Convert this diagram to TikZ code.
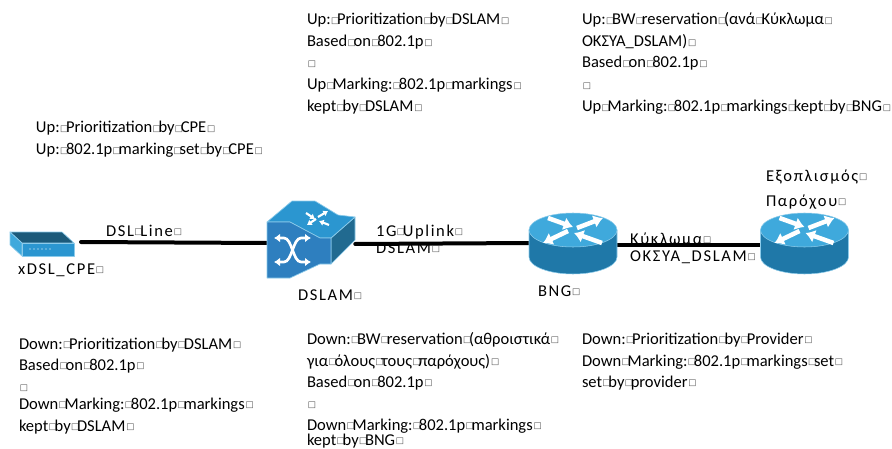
\documentclass[tikz,border=0pt]{standalone}
\usepackage{fontspec}
\usetikzlibrary{arrows.meta}
\setmainfont{Carlito}
\newfontfamily\lblfont[LetterSpace=10]{Carlito}
\newfontfamily\boxfont{DejaVu Sans}
\newcommand{\bx}{\raisebox{1pt}{\boxfont\fontsize{6.5}{6.5}\selectfont\color{black!70}□}}
\newcommand{\tf}{\makebox[0.38em][l]{\hspace{0.02em}\bx}}
\newcommand{\tfe}{\hspace{0.05em}\bx}
\definecolor{rtop}{HTML}{3FA9DC}
\definecolor{rside}{HTML}{1F78A8}
\definecolor{dfront}{HTML}{2E7FBF}
\definecolor{dtop}{HTML}{2B96D0}
\definecolor{dside}{HTML}{216A90}
\definecolor{edge}{HTML}{8CCBEA}
\tikzset{
  x=0.75pt,y=-0.75pt,
  txt/.style={anchor=base west,inner sep=0pt,outer sep=0pt,font=\fontsize{12.4}{12.4}\selectfont},
  lbl/.style={anchor=base west,inner sep=0pt,outer sep=0pt,font=\lblfont\fontsize{12.4}{12.4}\selectfont},
  wire/.style={line width=3pt,black,line cap=round},
  face/.style={draw=edge,line width=0.5pt,line join=round},
  rarrow/.style={white,line width=3.4pt,-{Latex[length=7pt,width=10pt]}},
  xarrow/.style={white,line width=2pt,{Latex[length=4.5pt,width=6.5pt]}-{Latex[length=4.5pt,width=6.5pt]}},
  sarrow/.style={white,line width=1.6pt,-{Latex[length=3.5pt,width=5pt]}}
}
\newcommand{\routericon}[2]{% cx, cy (top ellipse centre)
  \begin{scope}[shift={(#1,#2)}]
    \fill[rside,draw=edge,line width=0.4pt] (-44,0) -- (-44,27) arc[start angle=180,end angle=360,x radius=33pt,y radius=12.75pt] -- (44,0) -- cycle;
    \fill[rtop,draw=edge,line width=0.4pt] (0,0) ellipse[x radius=33pt,y radius=12.75pt];
    \draw[rarrow] (-25,-12) -- (0,-3);
    \draw[rarrow] (4,-2) -- (30,-12);
    \draw[rarrow] (-5,1) -- (-30,13);
    \draw[rarrow] (29,13) -- (1,3);
  \end{scope}
}
\begin{document}
\begin{tikzpicture}
\useasboundingbox (0,0) rectangle (892,449);
% connector anchors
\coordinate (cpeR) at (81,242);
\node[inner sep=0pt,minimum size=0pt] (dslamL) at (268,243) {};
\node[inner sep=0pt,minimum size=0pt] (dslamR) at (355,244) {};
\node[inner sep=0pt,minimum size=0pt] (bngL) at (530,243) {};
\node[inner sep=0pt,minimum size=0pt] (bngR) at (617,245) {};
\node[inner sep=0pt,minimum size=0pt] (provL) at (762,245) {};
\draw[wire] (cpeR) -- (dslamL);
\draw[wire] (dslamR) -- (bngL);
\draw[wire] (bngR) -- (provL);
% CPE
\fill[face,fill=dside!85!black] (10,232) -- (62,232) -- (74,243) -- (22,243) -- cycle;
\fill[face,fill=rtop] (10,232) -- (22,243) -- (22,256) -- (10,245) -- cycle;
\fill[face,fill=dtop] (22,243) -- (74,243) -- (74,256) -- (22,256) -- cycle;
\foreach \dx in {30,34,38,42,46,50} \fill[white] (\dx,249) circle (0.6);
% DSLAM
\fill[face,fill=dside] (331,238) -- (355,217) -- (355,240) -- (331,264) -- cycle;
\fill[face,fill=dtop] (267,222) -- (292,201) -- (315,201) -- (338,215) -- (355,217) -- (331,238) -- (320,238) -- (290,222) -- cycle;
\fill[face,fill=dfront] (267,222) -- (290,222) -- (320,238) -- (331,238) -- (331,264) -- (320,264) -- (290,278) -- (267,278) -- cycle;
\draw[xarrow] (274,238) -- (284,238) .. controls (292,238) and (293,262) .. (301,262) -- (311,262);
\draw[xarrow] (274,262) -- (284,262) .. controls (292,262) and (293,238) .. (301,238) -- (311,238);
\draw[sarrow] (306,213) -- (315,219);
\draw[sarrow] (318,217) -- (328,211);
\draw[sarrow] (316,219) -- (307,225);
\draw[sarrow] (329,225) -- (319,221);
\routericon{573}{230}
\routericon{804.5}{230}
% labels
\node[lbl] (lcpe) at (18,274) {xDSL\_CPE\tfe};
\node[lbl] (ldsl) at (106,236) {DSL\tf Line\tfe};
\node[lbl] (ldslam) at (298,300) {DSLAM\tfe};
\node[lbl] (lup1) at (376,236) {1G\tf Uplink\tfe};
\node[lbl] (lup2) at (376,253) {DSLAM\tfe};
\node[lbl] (lbng) at (538,296) {BNG\tfe};
\node[lbl] (lk1) at (630,244) {Κύκλωμα\tfe};
\node[lbl] (lk2) at (630,261) {ΟΚΣΥΑ\_DSLAM\tfe};
\node[lbl] (lp1) at (766,181) {Εξοπλισμός\tfe};
\node[lbl] (lp2) at (766,206) {Παρόχου\tfe};
% text blocks
\node[txt] (a1) at (36,133) {Up:\tf Prioritization\tf by\tf CPE\tfe};
\node[txt] (a2) at (36,155) {Up:\tf 802.1p\tf marking\tf set\tf by\tf CPE\tfe};
\node[txt] (b1) at (307,25) {Up:\tf Prioritization\tf by\tf DSLAM\tfe};
\node[txt] (b2) at (307,47) {Based\tf on\tf 802.1p\tfe};
\node[txt] (b3) at (307,68) {\tfe};
\node[txt] (b4) at (307,90) {Up\tf Marking:\tf 802.1p\tf markings\tfe};
\node[txt] (b5) at (307,112) {kept\tf by\tf DSLAM\tfe};
\node[txt] (c1) at (582,25) {Up:\tf BW\tf reservation\tf (ανά\tf Κύκλωμα\tfe};
\node[txt] (c2) at (582,47) {ΟΚΣΥΑ\_DSLAM)\tfe};
\node[txt] (c3) at (582,68) {Based\tf on\tf 802.1p\tfe};
\node[txt] (c4) at (582,90) {\tfe};
\node[txt] (c5) at (582,112) {Up\tf Marking:\tf 802.1p\tf markings\tf kept\tf by\tf BNG\tfe};
\node[txt] (d1) at (19,349) {Down:\tf Prioritization\tf by\tf DSLAM\tfe};
\node[txt] (d2) at (19,370) {Based\tf on\tf 802.1p\tfe};
\node[txt] (d3) at (19,392) {\tfe};
\node[txt] (d4) at (19,409) {Down\tf Marking:\tf 802.1p\tf markings\tfe};
\node[txt] (d5) at (19,431) {kept\tf by\tf DSLAM\tfe};
\node[txt] (e1) at (307,344) {Down:\tf BW\tf reservation\tf (αθροιστικά\tfe};
\node[txt] (e2) at (307,366) {για\tf όλους\tf τους\tf παρόχους)\tfe};
\node[txt] (e3) at (307,387) {Based\tf on\tf 802.1p\tfe};
\node[txt] (e4) at (307,409) {\tfe};
\node[txt] (e5) at (307,430) {Down\tf Marking:\tf 802.1p\tf markings\tfe};
\node[txt] (e6) at (307,445) {kept\tf by\tf BNG\tfe};
\node[txt] (f1) at (582,344) {Down:\tf Prioritization\tf by\tf Provider\tfe};
\node[txt] (f2) at (582,366) {Down\tf Marking:\tf 802.1p\tf markings\tf set\tfe};
\node[txt] (f3) at (582,387) {set\tf by\tf provider\tfe};
\end{tikzpicture}
\end{document}
